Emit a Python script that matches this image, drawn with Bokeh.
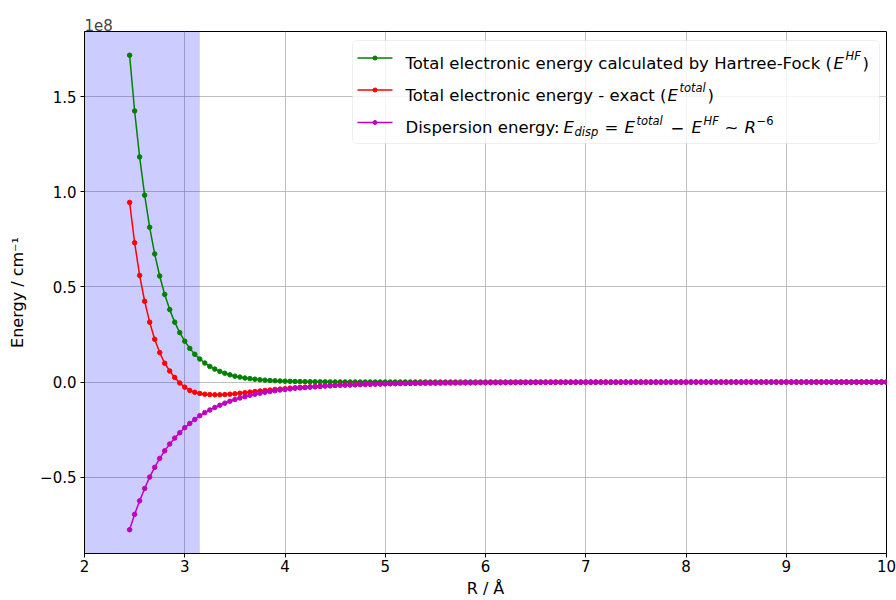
import numpy as np
from bokeh.plotting import figure
from bokeh.models import Range1d, FixedTicker, BoxAnnotation, Label, ColumnDataSource
from bokeh.embed import file_html
from bokeh.resources import INLINE

# ---------------- data (energies in units of 1e8 cm^-1) ----------------
R = np.round(np.arange(2.45, 10.0001, 0.05), 2)   # interatomic distance grid, Å

E_HF = [
    1.719, 1.426, 1.184, 0.983, 0.814, 0.674, 0.558, 0.461, 0.381, 0.315,
    0.260, 0.215, 0.177, 0.146, 0.121, 0.100, 0.082, 0.068, 0.056, 0.046,
    0.038, 0.031, 0.026, 0.021, 0.018, 0.015, 0.012, 0.010, 0.008, 0.007,
    0.0055, 0.0045,
    0.0037, 0.0031, 0.0025, 0.0021, 0.0017, 0.0014, 0.0012, 0.0010, 0.0008, 0.0007,
    0.0005, 0.0004, 0.0004, 0.0003, 0.0002, 0.0002, 0.0002, 0.0001,
] + [0.0001] * 10 + [0.0] * 92

E_total = [
    0.945, 0.733, 0.561, 0.425, 0.315, 0.225, 0.155, 0.099, 0.058, 0.024,
    -0.005, -0.027, -0.044, -0.054, -0.060, -0.064, -0.066, -0.067, -0.067, -0.066,
    -0.064, -0.062, -0.059, -0.056, -0.053, -0.050, -0.047, -0.044, -0.042, -0.039,
    -0.037, -0.035,
    -0.032, -0.030, -0.028, -0.027, -0.025, -0.024, -0.022, -0.020, -0.019, -0.017,
    -0.016, -0.015, -0.015, -0.014, -0.013, -0.012, -0.011, -0.0104,
    -0.0097, -0.0091, -0.0085, -0.0080, -0.0075, -0.0070, -0.0066, -0.0062, -0.0058, -0.0055,
    -0.0053, -0.0050, -0.0047, -0.0044, -0.0042, -0.0040, -0.0038, -0.0036, -0.0034, -0.0032,
    -0.0030, -0.0029, -0.0027, -0.0026, -0.0025, -0.0024, -0.0022, -0.0021, -0.0020, -0.0019,
    -0.0018, -0.0017, -0.0017, -0.0016, -0.0015, -0.0014, -0.0014, -0.0013, -0.0013, -0.0012,
    -0.0012, -0.0011, -0.0011, -0.0010, -0.0010, -0.0009, -0.0009, -0.0009, -0.0008, -0.0008,
    -0.0008, -0.0007, -0.0007, -0.0007, -0.0006, -0.0006, -0.0006, -0.0006, -0.0005, -0.0005,
    -0.0005, -0.0005,
] + [-0.0004] * 10 + [-0.0003] * 12 + [-0.0002] * 18

E_disp = [
    -0.777, -0.696, -0.625, -0.560, -0.500, -0.449, -0.402, -0.362, -0.326, -0.295,
    -0.267, -0.240, -0.218, -0.197, -0.177, -0.161, -0.147, -0.134, -0.122, -0.111,
    -0.101, -0.092, -0.084, -0.077, -0.070, -0.064, -0.059, -0.054, -0.050, -0.046,
    -0.042, -0.039,
    -0.036, -0.033, -0.031, -0.029, -0.027, -0.025, -0.023, -0.021, -0.020, -0.018,
    -0.017, -0.016, -0.015, -0.014, -0.013, -0.012, -0.011, -0.0105,
    -0.0098, -0.0092, -0.0086, -0.0081, -0.0076, -0.0071, -0.0067, -0.0063, -0.0059, -0.0056,
    -0.0053, -0.0050, -0.0047, -0.0044, -0.0042, -0.0040, -0.0038, -0.0036, -0.0034, -0.0032,
    -0.0030, -0.0029, -0.0027, -0.0026, -0.0025, -0.0024, -0.0022, -0.0021, -0.0020, -0.0019,
    -0.0018, -0.0017, -0.0017, -0.0016, -0.0015, -0.0014, -0.0014, -0.0013, -0.0013, -0.0012,
    -0.0012, -0.0011, -0.0011, -0.0010, -0.0010, -0.0009, -0.0009, -0.0009, -0.0008, -0.0008,
    -0.0008, -0.0007, -0.0007, -0.0007, -0.0006, -0.0006, -0.0006, -0.0006, -0.0005, -0.0005,
    -0.0005, -0.0005,
] + [-0.0004] * 10 + [-0.0003] * 12 + [-0.0002] * 18

X_TICKS = [2, 3, 4, 5, 6, 7, 8, 9, 10]
Y_TICKS = [-0.5, 0.0, 0.5, 1.0, 1.5]
Y_TICK_LABELS = ["\u22120.5", "0.0", "0.5", "1.0", "1.5"]
SHADE_END = 3.15

LABELS = [
    "Total electronic energy calculated by Hartree-Fock",
    "Total electronic energy - exact",
    "Dispersion energy",
]
COLORS = ["green", "red", "#bf00bf"]

n = len(R)
assert len(E_HF) == n and len(E_total) == n and len(E_disp) == n

# ---------------- figure ----------------
X0, X1 = 2.0, 10.0
Y0, Y1 = -0.902, 1.844
FONT = "DejaVu Sans"

p = figure(width=896, height=600, x_range=Range1d(X0, X1), y_range=Range1d(Y0, Y1),
           output_backend="svg", toolbar_location=None,
           min_border_left=84, min_border_right=10, min_border_top=31, min_border_bottom=47)
p.background_fill_color = "white"
p.border_fill_color = "white"
p.outline_line_color = "black"
p.outline_line_width = 1

p.title.text = "1e8"
p.title.text_font = FONT
p.title.text_font_size = "15px"
p.title.text_font_style = "normal"
p.title.align = "left"
p.title.standoff = 1
p.title.offset = 0

for ax in (p.xaxis[0], p.yaxis[0]):
    ax.axis_line_color = "black"
    ax.major_tick_out = 4
    ax.major_tick_in = 0
    ax.minor_tick_line_color = None
    ax.major_label_text_font = FONT
    ax.major_label_text_font_size = "15px"
    ax.major_label_text_color = "black"
    ax.axis_label_text_font = FONT
    ax.axis_label_text_font_size = "16px"
    ax.axis_label_text_font_style = "normal"
    ax.axis_label_text_color = "black"

p.xaxis.ticker = FixedTicker(ticks=X_TICKS)
p.yaxis.ticker = FixedTicker(ticks=Y_TICKS)
p.yaxis.major_label_overrides = {t: s for t, s in zip(Y_TICKS, Y_TICK_LABELS)}
p.xaxis.major_label_standoff = 2
p.yaxis.major_label_standoff = 4
p.xaxis.axis_label = "R / Å"
p.yaxis.axis_label = "Energy / cm⁻¹"
p.xaxis.axis_label_standoff = 4
p.yaxis.axis_label_standoff = 10

p.grid.grid_line_color = "#b0b0b0"
p.grid.grid_line_width = 0.8

# shaded region
p.add_layout(BoxAnnotation(left=X0, right=SHADE_END, fill_color="blue", fill_alpha=0.2,
                           line_alpha=0, level="underlay"))

# data
src = ColumnDataSource(dict(R=R, hf=E_HF, tot=E_total, disp=E_disp))
for col, color in zip(["hf", "tot", "disp"], COLORS):
    p.line("R", col, source=src, color=color, line_width=1.5)
    p.scatter("R", col, source=src, color=color, size=4.5)

# ---------------- legend (drawn by hand to allow sub/superscripts) ----------------
FL, FT = 84, 31
FW, FH = 802, 522


def X(px):
    return X0 + (px - FL) * (X1 - X0) / FW


def Y(py):
    return Y1 - (py - FT) * (Y1 - Y0) / FH


p.add_layout(BoxAnnotation(left=X(352), right=X(879), top=Y(40), bottom=Y(143),
                           fill_color="white", fill_alpha=0.8, line_color="#cccccc",
                           line_width=1, border_radius=4, level="annotation"))

rows_y = [57.5, 89.5, 122]
hs = ColumnDataSource(dict(x0=[X(357)] * 3, x1=[X(392)] * 3, y=[Y(v) for v in rows_y],
                           xm=[X(374.5)] * 3, c=COLORS))
r1 = p.segment(x0="x0", y0="y", x1="x1", y1="y", color="c", line_width=1.5, source=hs)
r2 = p.scatter(x="xm", y="y", color="c", size=4, source=hs)
r1.level = "overlay"
r2.level = "overlay"

F, S = "16.5px", "11.5px"
b1, b2, b3 = 62.5, 94.5, 127
pieces = [
    (405, b1, LABELS[0] + " (", F, "normal"),
    (833, b1, "E", F, "italic"),
    (845, b1 - 7, "HF", S, "italic"),
    (862, b1, ")", F, "normal"),
    (405, b2, LABELS[1] + " (", F, "normal"),
    (667, b2, "E", F, "italic"),
    (679, b2 - 7, "total", S, "italic"),
    (707, b2, ")", F, "normal"),
    (405, b3, LABELS[2] + ": ", F, "normal"),
    (563, b3, "E", F, "italic"),
    (574, b3 + 4, "disp", S, "italic"),
    (604, b3, "=", F, "normal"),
    (624, b3, "E", F, "italic"),
    (636, b3 - 7, "total", S, "italic"),
    (670, b3, "\u2212", F, "normal"),
    (691, b3, "E", F, "italic"),
    (703, b3 - 7, "HF", S, "italic"),
    (724, b3, "~", F, "normal"),
    (744, b3, "R", F, "italic"),
    (756, b3 - 7, "\u22126", S, "normal"),
]
for px, py, txt, size, style in pieces:
    p.add_layout(Label(x=X(px), y=Y(py), text=txt, text_font=FONT, text_font_size=size,
                       text_font_style=style, text_baseline="alphabetic", text_align="left",
                       text_color="black", level="overlay"))

open("out.html", "w").write(file_html(p, INLINE))
